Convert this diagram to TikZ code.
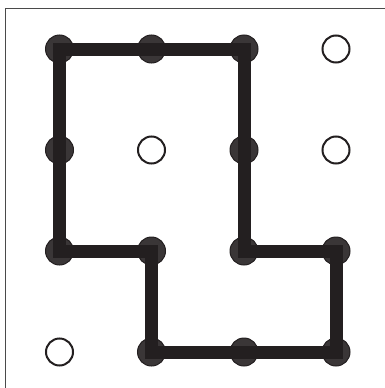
\documentclass[tikz,border=0pt]{standalone}
\usepackage{xcolor}
\usepackage{tikz}
\usetikzlibrary{positioning}
\definecolor{cwire}{HTML}{231F20}
\definecolor{cdot}{HTML}{3A3637}
\definecolor{cframe}{HTML}{4A4A4A}

\begin{document}
\begin{tikzpicture}[
    x=1pt, y=-1pt,
    used/.style={
        circle, draw=cwire, fill=cdot, line width=1pt,
        minimum size=28pt, inner sep=0pt
    },
    free/.style={
        circle, draw=cwire, fill=white, line width=2pt,
        minimum size=27pt, inner sep=0pt
    },
    wire/.style={draw=cwire, line width=13pt, line join=miter},
    frame/.style={draw=cframe, line width=1pt},
]
\useasboundingbox (0,0) rectangle (385,388);

% --- Frame (only top and left edges show) ------------------------------------
\coordinate (fbl) at (5,388);
\coordinate (ftl) at (5,8);
\coordinate (ftr) at (385,8);
\draw[frame] (fbl) -- (ftl) -- (ftr);

% --- Row 1 --------------------------------------------------------------------
\node[used] (d11) at ( 59.5, 49) {};
\node[used] (d12) at (151.5, 49) {};
\node[used] (d13) at (244.0, 49) {};
\node[free] (d14) at (336.0, 49) {};

% --- Row 2 --------------------------------------------------------------------
\node[used] (d21) at ( 59.5,150) {};
\node[free] (d22) at (151.5,150) {};
\node[used] (d23) at (244.0,150) {};
\node[free] (d24) at (336.0,150) {};

% --- Row 3 --------------------------------------------------------------------
\node[used] (d31) at ( 59.5,251) {};
\node[used] (d32) at (151.5,251) {};
\node[used] (d33) at (244.0,251) {};
\node[used] (d34) at (336.0,251) {};

% --- Row 4 --------------------------------------------------------------------
\node[free] (d41) at ( 59.5,352) {};
\node[used] (d42) at (151.5,352) {};
\node[used] (d43) at (244.0,352) {};
\node[used] (d44) at (336.0,352) {};

% --- Closed loop through the used dots ----------------------------------------
\draw[wire] (d11.center) -- (d12.center) -- (d13.center) -- (d23.center)
    -- (d33.center) -- (d34.center) -- (d44.center) -- (d43.center)
    -- (d42.center) -- (d32.center) -- (d31.center) -- (d21.center)
    -- cycle;

\end{tikzpicture}
\end{document}
